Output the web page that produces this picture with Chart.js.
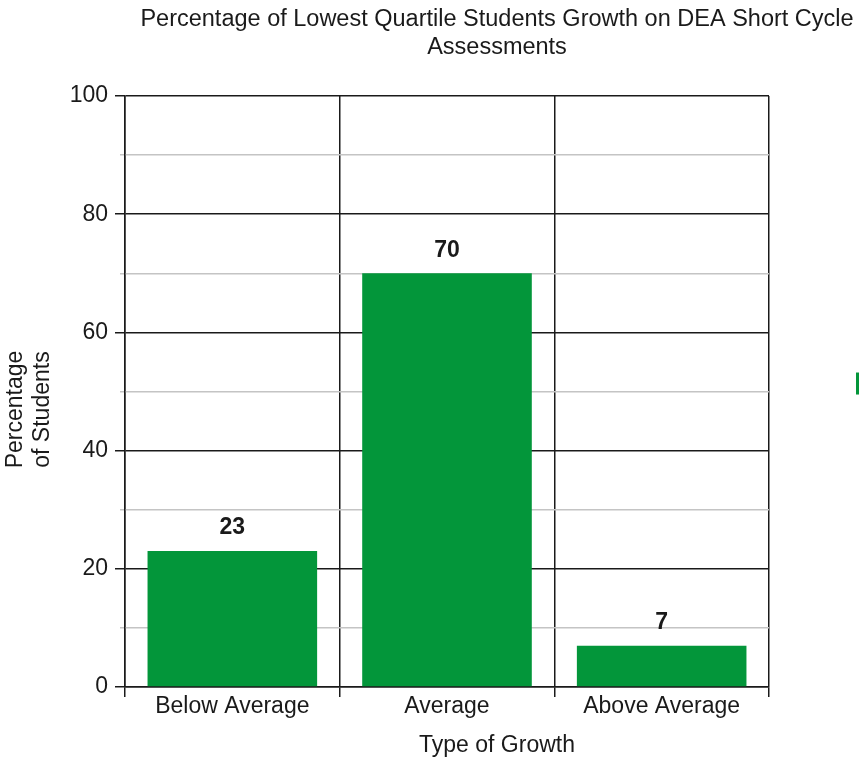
<!DOCTYPE html>
<html>
<head>
<meta charset="utf-8">
<script src="https://cdn.jsdelivr.net/npm/chart.js@4/dist/chart.umd.min.js"></script>
<style>
  html, body { margin: 0; padding: 0; overflow: hidden; background: #fff; }
  canvas { display: block; }
</style>
</head>
<body>
<canvas id="growthChart" width="994" height="765"></canvas>
<script>
// Growth categories and the share of lowest-quartile students in each (%)
const categories = ['Below Average', 'Average', 'Above Average'];
const percentages = [23, 70, 7];

// Labelled (major) and unlabelled (minor) value-axis ticks
const majorTicks = [0, 20, 40, 60, 80, 100];
const minorTicks = [10, 30, 50, 70, 90];

const chartTitle = ['Percentage of Lowest Quartile Students Growth on DEA Short Cycle', 'Assessments'];
const valueAxisTitle = ['Percentage', 'of Students'];
const categoryAxisTitle = 'Type of Growth';
const seriesName = 'Percentage of Students';

const FONT = '"Liberation Sans", Arial, Helvetica, sans-serif';
const INK = '#1a1a1a';
const BAR_GREEN = '#03963a';
const TEXT_SIZE = 23;

// Bold value printed above every bar
const valueLabels = {
  id: 'valueLabels',
  afterDatasetsDraw(chart) {
    const { ctx } = chart;
    const meta = chart.getDatasetMeta(0);
    const values = chart.data.datasets[0].data;
    ctx.save();
    ctx.font = 'bold ' + TEXT_SIZE + 'px ' + FONT;
    ctx.fillStyle = INK;
    ctx.textAlign = 'center';
    ctx.textBaseline = 'middle';
    meta.data.forEach((bar, i) => {
      ctx.fillText(String(values[i]), bar.x, bar.y - 23);
    });
    ctx.restore();
  }
};

// Two-line rotated title for the value axis, set a little below the plot's middle
const valueAxisCaption = {
  id: 'valueAxisCaption',
  afterDraw(chart) {
    const { ctx, chartArea } = chart;
    const cy = (chartArea.top + chartArea.bottom) / 2 + 18;
    const lineGap = 27;
    ctx.save();
    ctx.font = TEXT_SIZE + 'px ' + FONT;
    ctx.fillStyle = INK;
    ctx.textAlign = 'center';
    ctx.textBaseline = 'middle';
    ctx.translate(16, cy);
    ctx.rotate(-Math.PI / 2);
    valueAxisTitle.forEach((line, i) => ctx.fillText(line, 0, i * lineGap));
    ctx.restore();
  }
};

// Series key swatch sitting to the right of the plot
const legendSwatch = {
  id: 'legendSwatch',
  afterDraw(chart) {
    const { ctx, chartArea } = chart;
    const cy = (chartArea.top + chartArea.bottom) / 2 - 8;
    ctx.save();
    ctx.fillStyle = chart.data.datasets[0].backgroundColor;
    ctx.fillRect(chartArea.right + 87, cy - 11, 22, 22);
    ctx.restore();
  }
};

new Chart(document.getElementById('growthChart'), {
  type: 'bar',
  data: {
    labels: categories,
    datasets: [{
      label: seriesName,
      data: percentages,
      backgroundColor: BAR_GREEN,
      borderWidth: 0,
      categoryPercentage: 1.0,
      barPercentage: 0.79
    }]
  },
  options: {
    responsive: false,
    animation: false,
    layout: { padding: 0 },
    plugins: {
      legend: { display: false },
      tooltip: { enabled: false },
      title: {
        display: true,
        text: chartTitle,
        color: INK,
        font: { family: FONT, size: 23.5, weight: 'normal', lineHeight: 1.15 },
        padding: { top: 6.5, bottom: 35.5 }
      },
      subtitle: {
        display: true,
        position: 'bottom',
        text: categoryAxisTitle,
        color: INK,
        font: { family: FONT, size: TEXT_SIZE, weight: 'normal', lineHeight: 1.2 },
        padding: { top: 5.2, bottom: 5.2 }
      }
    },
    scales: {
      x: {
        afterFit: scale => { scale.height = 40; },
        grid: { color: INK, lineWidth: 1.5, tickLength: 10, offset: true },
        border: { color: INK, width: 1.5 },
        ticks: { color: INK, font: { family: FONT, size: TEXT_SIZE }, padding: -4.5 }
      },
      y: {
        position: 'left',
        weight: 1,
        min: 0,
        max: 100,
        afterBuildTicks: scale => { scale.ticks = majorTicks.map(v => ({ value: v })); },
        afterFit: scale => { scale.width = 125; },
        grid: { color: INK, lineWidth: 1.5, tickLength: 10 },
        border: { color: INK, width: 1.5 },
        ticks: { color: INK, font: { family: FONT, size: TEXT_SIZE }, padding: 7 }
      },
      yMinor: {
        position: 'left',
        weight: 0,
        min: 0,
        max: 100,
        afterBuildTicks: scale => { scale.ticks = minorTicks.map(v => ({ value: v })); },
        afterFit: scale => { scale.width = 0; },
        grid: { color: '#c4c4c4', lineWidth: 1.5, tickLength: 5 },
        border: { display: false },
        ticks: { display: false }
      },
      // empty band on the right that holds the series key
      keyBand: {
        position: 'right',
        min: 0,
        max: 100,
        afterFit: scale => { scale.width = 225; },
        grid: { display: false },
        border: { display: false },
        ticks: { display: false }
      }
    }
  },
  plugins: [valueLabels, valueAxisCaption, legendSwatch]
});
</script>
</body>
</html>
